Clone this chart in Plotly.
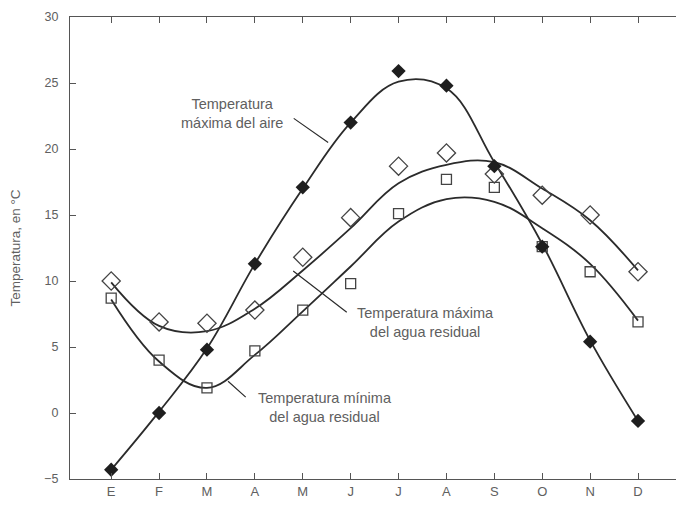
import plotly.graph_objects as go

months = ["E", "F", "M", "A", "M", "J", "J", "A", "S", "O", "N", "D"]
month_idx = list(range(12))

# Observed points
air_max = [-4.3, 0.0, 4.8, 11.3, 17.1, 22.0, 25.9, 24.8, 18.7, 12.6, 5.4, -0.6]
water_max = [10.0, 6.9, 6.8, 7.8, 11.8, 14.8, 18.7, 19.7, 18.1, 16.5, 15.0, 10.7]
water_min = [8.7, 4.0, 1.9, 4.7, 7.8, 9.8, 15.1, 17.7, 17.1, 12.6, 10.7, 6.9]

# Smoothed trend curves (value of the curve at each month)
air_curve = [-4.3, 0.1, 4.9, 11.3, 17.0, 22.0, 25.1, 24.6, 19.0, 12.8, 5.5, -0.6]
water_max_curve = [9.9, 6.6, 6.2, 7.9, 10.8, 14.0, 17.4, 18.8, 19.0, 17.0, 14.6, 10.8]
water_min_curve = [8.6, 3.9, 1.9, 4.4, 7.7, 11.1, 14.5, 16.2, 16.0, 14.0, 11.3, 7.0]

y_ticks = [-5, 0, 5, 10, 15, 20, 25, 30]

line_col = "#2b2b2b"
text_col = "#606060"
font_family = "Liberation Sans, Arial, sans-serif"

fig = go.Figure()

for curve in (air_curve, water_max_curve, water_min_curve):
    fig.add_trace(go.Scatter(
        x=month_idx, y=curve, mode="lines",
        line=dict(color=line_col, width=1.8, shape="spline", smoothing=1.1),
        hoverinfo="skip", showlegend=False))

fig.add_trace(go.Scatter(
    x=month_idx, y=water_max, mode="markers", name="Temperatura máxima del agua residual",
    marker=dict(symbol="diamond-open", size=14, color="#444", line=dict(width=1.3)),
    showlegend=False))
fig.add_trace(go.Scatter(
    x=month_idx, y=water_min, mode="markers", name="Temperatura mínima del agua residual",
    marker=dict(symbol="square-open", size=10, color="#444", line=dict(width=1.3)),
    showlegend=False))
fig.add_trace(go.Scatter(
    x=month_idx, y=air_max, mode="markers", name="Temperatura máxima del aire",
    marker=dict(symbol="diamond", size=11, color="#1e1e1e"),
    showlegend=False))

ann_font = dict(family=font_family, size=14.5, color=text_col)
annotations = [
    dict(x=2.53, y=22.7, text="Temperatura<br>máxima del aire", showarrow=False,
         font=ann_font, xanchor="center", yanchor="middle"),
    dict(x=6.56, y=6.85, text="Temperatura máxima<br>del agua residual", showarrow=False,
         font=ann_font, xanchor="center", yanchor="middle"),
    dict(x=4.47, y=0.45, text="Temperatura mínima<br>del agua residual", showarrow=False,
         font=ann_font, xanchor="center", yanchor="middle"),
    # pointer lines
    dict(x=4.53, y=20.5, ax=3.78, ay=22.4, axref="x", ayref="y", text="",
         showarrow=True, arrowhead=0, arrowwidth=1.2, arrowcolor=line_col, standoff=0),
    dict(x=3.80, y=10.75, ax=4.95, ay=7.55, axref="x", ayref="y", text="",
         showarrow=True, arrowhead=0, arrowwidth=1.2, arrowcolor=line_col, standoff=0),
    dict(x=2.44, y=2.4, ax=2.84, ay=1.1, axref="x", ayref="y", text="",
         showarrow=True, arrowhead=0, arrowwidth=1.2, arrowcolor=line_col, standoff=0),
]

fig.update_layout(
    width=676, height=497,
    margin=dict(l=62, r=0, t=9, b=26),
    paper_bgcolor="white", plot_bgcolor="white",
    font=dict(family=font_family, color=text_col),
    annotations=annotations,
    xaxis=dict(
        range=[-0.86, 11.96], tickvals=month_idx, ticktext=months,
        showgrid=False, zeroline=False, showline=True, linecolor="#555", linewidth=1.3,
        mirror="ticks", ticks="inside", ticklen=6, tickcolor="#555",
        tickfont=dict(size=13, color=text_col, family=font_family),
    ),
    yaxis=dict(
        range=[-5, 30], tickvals=y_ticks,
        showgrid=False, zeroline=False, showline=True, linecolor="#555", linewidth=1.3,
        ticks="inside", ticklen=6, tickcolor="#555", ticklabelstandoff=8,
        tickfont=dict(size=12.5, color=text_col, family=font_family),
        title=dict(text="Temperatura, en °C", standoff=20,
                   font=dict(size=13.5, color=text_col, family=font_family)),
    ),
)

fig.write_html("out.html")
